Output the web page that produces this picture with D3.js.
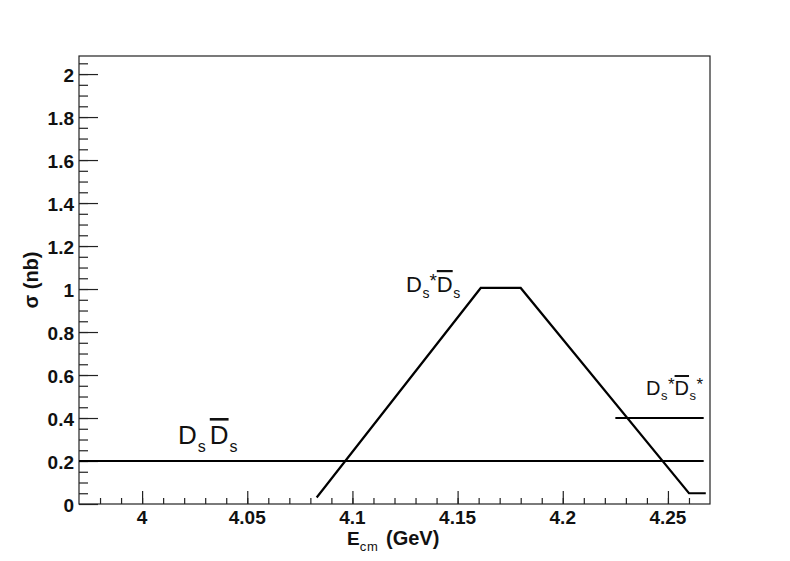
<!DOCTYPE html>
<html>
<head>
<meta charset="utf-8">
<script src="https://cdn.jsdelivr.net/npm/d3@7/dist/d3.min.js"></script>
<style>
  html, body { margin: 0; padding: 0; background: #fff; }
  svg { display: block; }
  text { font-family: "Liberation Sans", Arial, Helvetica, sans-serif; }
</style>
</head>
<body>
<svg id="chart" width="790" height="561"></svg>
<script>
// ---- data ----
const xDomain = [3.97, 4.27];
const yDomain = [0, 2.084];
const xMajorTicks = [4.0, 4.05, 4.1, 4.15, 4.2, 4.25];
const xTickLabels = ["4", "4.05", "4.1", "4.15", "4.2", "4.25"];
const yMajorTicks = [0, 0.2, 0.4, 0.6, 0.8, 1.0, 1.2, 1.4, 1.6, 1.8, 2.0];
const yTickLabels = ["0", "0.2", "0.4", "0.6", "0.8", "1", "1.2", "1.4", "1.6", "1.8", "2"];

const dsdsE = [3.97, 4.267];
const dsdsSigma = [0.2, 0.2];
const dsstarDsE = [4.083, 4.161, 4.180, 4.260, 4.268];
const dsstarDsSigma = [0.03, 1.005, 1.005, 0.05, 0.05];
const dsstarDsstarE = [4.225, 4.267];
const dsstarDsstarSigma = [0.4, 0.4];

// ---- layout ----
const mLeft = 79, mRight = 710, mTop = 56, mBottom = 504;
const svg = d3.select("#chart");
const x = d3.scaleLinear().domain(xDomain).range([mLeft, mRight]);
const y = d3.scaleLinear().domain(yDomain).range([mBottom, mTop]);

// frame
svg.append("rect")
  .attr("x", mLeft).attr("y", mTop)
  .attr("width", mRight - mLeft).attr("height", mBottom - mTop)
  .attr("fill", "none").attr("stroke", "#222").attr("stroke-width", 1.2);

// x ticks (minor every 0.01, major every 0.05)
const xMinor = d3.range(0, 31).map(i => +(3.97 + i * 0.01).toFixed(3)).filter(v => v > 3.97 && v < 4.27);
const xAxisMinor = d3.axisTop(x).tickValues(xMinor).tickSize(6).tickFormat("");
const gxm = svg.append("g").attr("transform", `translate(0,${mBottom})`).call(xAxisMinor);
const xAxisMajor = d3.axisTop(x).tickValues(xMajorTicks).tickSize(13).tickFormat("");
const gxM = svg.append("g").attr("transform", `translate(0,${mBottom})`).call(xAxisMajor);
[gxm, gxM].forEach(g => {
  g.select(".domain").remove();
  g.selectAll("line").attr("stroke", "#222").attr("stroke-width", 1.2);
});
svg.append("g").selectAll("text").data(xMajorTicks).join("text")
  .attr("x", d => x(d)).attr("y", 524)
  .attr("text-anchor", "middle")
  .attr("font-size", 19).attr("font-weight", "bold").attr("fill", "#111")
  .text((d, i) => xTickLabels[i]);

// y ticks (minor every 0.05, major every 0.2)
const yMinor = d3.range(0, 42).map(i => +(i * 0.05).toFixed(3)).filter(v => v > 0 && v < 2.084);
const yAxisMinor = d3.axisRight(y).tickValues(yMinor).tickSize(9).tickFormat("");
const gym = svg.append("g").attr("transform", `translate(${mLeft},0)`).call(yAxisMinor);
const yAxisMajor = d3.axisRight(y).tickValues(yMajorTicks).tickSize(19).tickFormat("");
const gyM = svg.append("g").attr("transform", `translate(${mLeft},0)`).call(yAxisMajor);
[gym, gyM].forEach(g => {
  g.select(".domain").remove();
  g.selectAll("line").attr("stroke", "#222").attr("stroke-width", 1.2);
});
svg.append("g").selectAll("text").data(yMajorTicks).join("text")
  .attr("x", 74).attr("y", d => y(d) + 8)
  .attr("text-anchor", "end")
  .attr("font-size", 19).attr("font-weight", "bold").attr("fill", "#111")
  .text((d, i) => yTickLabels[i]);

// axis titles
const xt = svg.append("text").attr("x", 347).attr("y", 545)
  .attr("font-size", 19).attr("font-weight", "bold").attr("fill", "#111");
xt.append("tspan").text("E");
xt.append("tspan").attr("dy", 6).attr("font-size", 13).attr("font-weight", "normal")
  .attr("letter-spacing", 0.8).text("cm");
xt.append("tspan").attr("x", 386).attr("dy", -6).attr("font-size", 20).text("(GeV)");

svg.append("text")
  .attr("transform", "translate(38,280) rotate(-90)")
  .attr("text-anchor", "middle")
  .attr("font-size", 20).attr("font-weight", "bold").attr("fill", "#111")
  .text("σ (nb)");

// lines
const line = d3.line().x(d => x(d[0])).y(d => y(d[1]));
function drawSeries(es, ss) {
  svg.append("path")
    .datum(es.map((e, i) => [e, ss[i]]))
    .attr("d", line)
    .attr("fill", "none").attr("stroke", "#000").attr("stroke-width", 2.2)
    .attr("stroke-linejoin", "miter");
}
drawSeries(dsdsE, dsdsSigma);
drawSeries(dsstarDsE, dsstarDsSigma);
drawSeries(dsstarDsstarE, dsstarDsstarSigma);

// labels with subscripts, superscripts and overlines
function label(xp, yp, parts) {
  const t = svg.append("text").attr("x", xp).attr("y", yp).attr("fill", "#111");
  parts.forEach(p => {
    const ts = t.append("tspan").text(p.t).attr("font-size", p.size);
    if (p.dx) ts.attr("dx", p.dx);
    if (p.dy) ts.attr("dy", p.dy);
    if (p.over) ts.attr("text-decoration", "overline");
  });
  return t;
}
// Ds Ds-bar
label(178, 444, [
  {t: "D", size: 26},
  {t: "s", size: 16, dx: 1, dy: 8},
  {t: "D", size: 26, dx: 4, dy: -8, over: true},
  {t: "s", size: 16, dx: 1, dy: 8}
]);
// Ds* Ds-bar
label(406, 292, [
  {t: "D", size: 22},
  {t: "s", size: 14, dx: 0.5, dy: 6},
  {t: "*", size: 19, dx: 0, dy: -11},
  {t: "D", size: 22, dx: 0, dy: 5, over: true},
  {t: "s", size: 14, dx: 0.5, dy: 6}
]);
// Ds* Ds*-bar
label(646, 395, [
  {t: "D", size: 20},
  {t: "s", size: 13, dx: 0.5, dy: 5},
  {t: "*", size: 17, dx: 0.5, dy: -10},
  {t: "D", size: 20, dx: 0, dy: 5, over: true},
  {t: "s", size: 13, dx: 0.5, dy: 5},
  {t: "*", size: 17, dx: 0.5, dy: -10}
]);
</script>
</body>
</html>
